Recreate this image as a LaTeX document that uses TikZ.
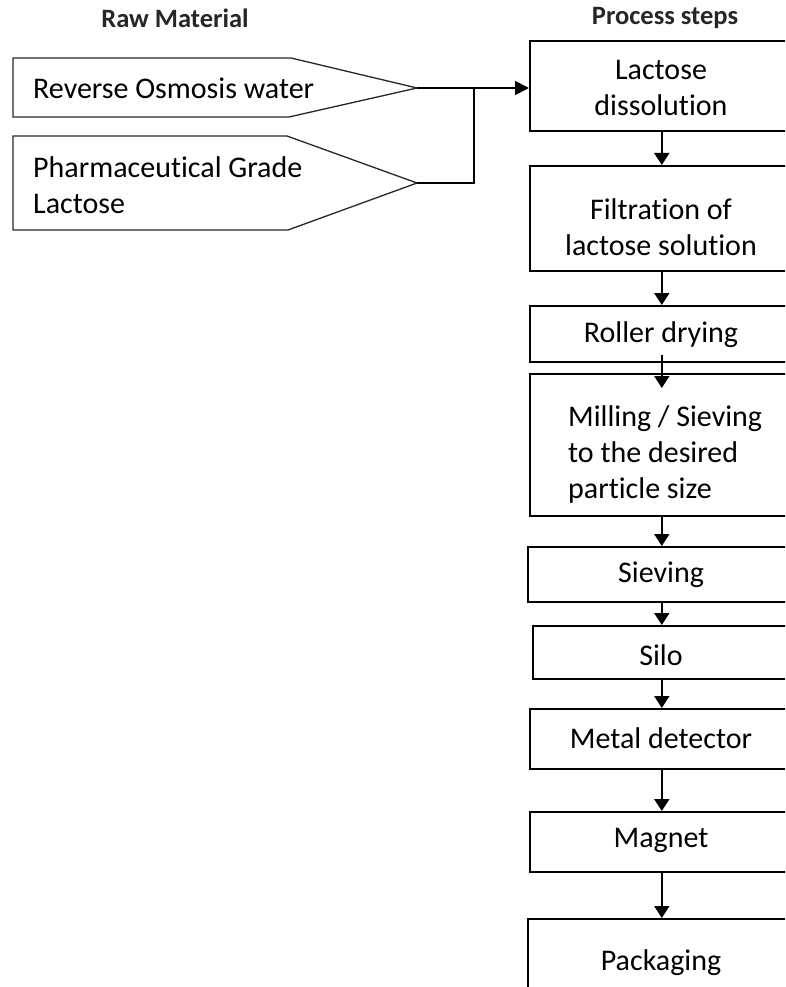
\documentclass[tikz,border=0pt]{standalone}
\usepackage{fontspec}
\setmainfont[Ligatures={NoCommon}]{Carlito}
\usetikzlibrary{arrows.meta}
\begin{document}
\begin{tikzpicture}[x=1pt,y=-1pt,
  stepbox/.style={draw=black,line width=1.6pt,inner sep=0pt,anchor=north west},
  txt/.style={inner sep=0pt,text=black,font=\fontsize{30}{36}\selectfont,align=center},
  headtxt/.style={inner sep=0pt,text=black!85,font=\fontsize{26.5}{30}\selectfont\bfseries},
  pent/.style={draw=black!85,line width=1.3pt},
  conn/.style={draw=black,line width=1.9pt},
  flow/.style={conn,-{Triangle[length=12pt,width=15pt]}}]
\useasboundingbox (0,0) rectangle (785,987);
\clip (0,0) rectangle (785,987);

% headings
\node[headtxt] (h1) at (175,18) {Raw Material};
\node[headtxt] (h2) at (665,18) {Process steps};

% raw material shapes
\draw[pent] (13,58) -- (291,58) -- (417,88) -- (289,117) -- (13,117) -- cycle;
\coordinate (tA) at (417,88);
\node[txt,anchor=west] (rA) at (33,88) {Reverse Osmosis water};
\draw[pent] (13,136) -- (287,136) -- (417,183) -- (288,230) -- (13,230) -- cycle;
\coordinate (tB) at (417,183);
\node[txt,anchor=west,align=left] (rB) at (33,185) {Pharmaceutical Grade\\Lactose};

% process boxes
\node[stepbox,minimum width=264pt,minimum height=90pt] (b1) at (529,40) {};
\node[stepbox,minimum width=264pt,minimum height=105pt] (b2) at (529,165) {};
\node[stepbox,minimum width=264pt,minimum height=56pt] (b3) at (529,305) {};
\node[stepbox,minimum width=264pt,minimum height=142pt] (b4) at (529,373) {};
\node[stepbox,minimum width=268pt,minimum height=55pt] (b5) at (527,546) {};
\node[stepbox,minimum width=258pt,minimum height=53pt] (b6) at (532,625) {};
\node[stepbox,minimum width=264pt,minimum height=60pt] (b7) at (529,708) {};
\node[stepbox,minimum width=264pt,minimum height=60pt] (b8) at (529,811) {};
\node[stepbox,minimum width=268pt,minimum height=95pt] (b9) at (527,918) {};

\node[txt] (t1) at (661,88) {Lactose\\dissolution};
\node[txt] (t2) at (661,227) {Filtration of\\lactose solution};
\node[txt] (t3) at (661,335) {Roller drying};
\node[txt,anchor=west,align=left] (t4) at (568,454) {Milling / Sieving\\to the desired\\particle size};
\node[txt] (t5) at (661,575) {Sieving};
\node[txt] (t6) at (661,655) {Silo};
\node[txt] (t7) at (661,738) {Metal detector};
\node[txt] (t8) at (661,840) {Magnet};
\node[txt] (t9) at (661,963) {Packaging};

% connectors
\coordinate (J) at (474,88);
\draw[conn,-{Triangle[length=14pt,width=14pt]}] (tA) -- (tA -| b1.west);
\draw[conn] (tB) -| (J);

\draw[flow] (b1.south) -- (b2.north);
\draw[flow] (b2.south) -- (b3.north);
\draw[flow] ([yshift=8pt]b3.south) -- ([yshift=-15pt]b4.north);
\draw[flow] (b4.south) -- (b5.north);
\draw[flow] (b5.south) -- (b6.north);
\draw[flow] (b6.south) -- (b7.north);
\draw[flow] (b7.south) -- (b8.north);
\draw[flow] (b8.south) -- (b9.north);
\end{tikzpicture}
\end{document}
